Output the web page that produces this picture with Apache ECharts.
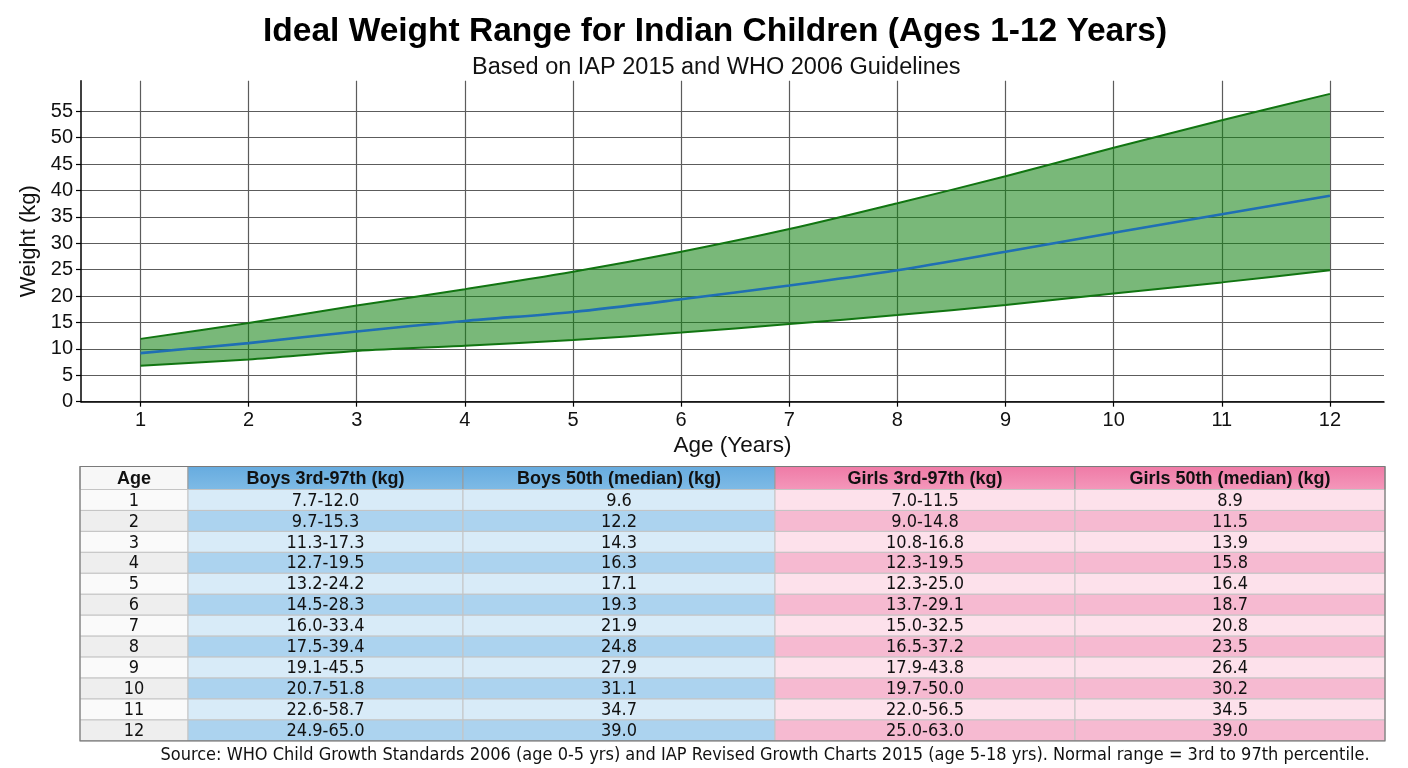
<!DOCTYPE html>
<html>
<head>
<meta charset="utf-8">
<title>Ideal Weight Range for Indian Children</title>
<script src="https://cdn.jsdelivr.net/npm/echarts@6/dist/echarts.min.js"></script>
<style>
  html, body { margin: 0; padding: 0; background: #fff; }
  #main { width: 1408px; height: 768px; }
</style>
</head>
<body>
<div id="main"></div>
<script>
// chart values
var ages = [1, 2, 3, 4, 5, 6, 7, 8, 9, 10, 11, 12];
var lower = [6.8, 8.0, 9.6, 10.6, 11.7, 13.1, 14.7, 16.4, 18.3, 20.5, 22.6, 24.9];
var upper = [11.9, 14.9, 18.2, 21.3, 24.6, 28.4, 32.7, 37.6, 42.7, 48.1, 53.3, 58.3];
var median = [9.2, 11.1, 13.3, 15.3, 17.0, 19.4, 22.0, 24.9, 28.4, 32.0, 35.5, 39.0];
var yTicks = [0, 5, 10, 15, 20, 25, 30, 35, 40, 45, 50, 55];

// table below the chart
var tableHeader = ['Age', 'Boys 3rd-97th (kg)', 'Boys 50th (median) (kg)', 'Girls 3rd-97th (kg)', 'Girls 50th (median) (kg)'];
var boysRange = ['7.7-12.0', '9.7-15.3', '11.3-17.3', '12.7-19.5', '13.2-24.2', '14.5-28.3', '16.0-33.4', '17.5-39.4', '19.1-45.5', '20.7-51.8', '22.6-58.7', '24.9-65.0'];
var boysMedian = ['9.6', '12.2', '14.3', '16.3', '17.1', '19.3', '21.9', '24.8', '27.9', '31.1', '34.7', '39.0'];
var girlsRange = ['7.0-11.5', '9.0-14.8', '10.8-16.8', '12.3-19.5', '12.3-25.0', '13.7-29.1', '15.0-32.5', '16.5-37.2', '17.9-43.8', '19.7-50.0', '22.0-56.5', '25.0-63.0'];
var girlsMedian = ['8.9', '11.5', '13.9', '15.8', '16.4', '18.7', '20.8', '23.5', '26.4', '30.2', '34.5', '39.0'];
var footnote = 'Source: WHO Child Growth Standards 2006 (age 0-5 yrs) and IAP Revised Growth Charts 2015 (age 5-18 yrs). Normal range = 3rd to 97th percentile.';

var bandWidth = ages.map(function (a, i) { return +(upper[i] - lower[i]).toFixed(2); });

// plot area: the visible axes live on grid 0 (x from 0.45 to 12.5),
// the curves on grid 1 whose edges sit exactly on age 1 and age 12
var plotLeft = 81, plotRight = 1384, plotTop = 80.7, plotBottom = 401.7;
var xMin = 0.45, xMax = 12.5, yMax = 60.8;
var pxPerYear = (plotRight - plotLeft) / (xMax - xMin);
var innerLeft = plotLeft + (ages[0] - xMin) * pxPerYear;
var innerRight = plotLeft + (ages[ages.length - 1] - xMin) * pxPerYear;

// table layout
var colX = [80, 188, 463, 775, 1075, 1385];
var tableTop = 466.5, headH = 23, rowH = 20.95;
var cellFont = '18px "DejaVu Sans Condensed", "Liberation Sans Narrow", sans-serif';
var headFont = 'bold 18px "Liberation Sans", Arial, sans-serif';

function grad(c1, c2) {
    return new echarts.graphic.LinearGradient(0, 0, 0, 1, [{offset: 0, color: c1}, {offset: 1, color: c2}]);
}

var table = [];
var headFills = ['#f7f7f7', grad('#66abdf', '#7fbbe6'), grad('#66abdf', '#7fbbe6'), grad('#ef7aa6', '#f498bb'), grad('#ef7aa6', '#f498bb')];
for (var c = 0; c < 5; c++) {
    table.push({
        type: 'rect',
        shape: {x: colX[c], y: tableTop, width: colX[c + 1] - colX[c], height: headH},
        style: {fill: headFills[c], stroke: '#9a9a9a', lineWidth: 1}
    });
    table.push({
        type: 'text',
        x: (colX[c] + colX[c + 1]) / 2, y: tableTop + headH / 2 + 1,
        style: {text: tableHeader[c], font: headFont, fill: '#111', align: 'center', verticalAlign: 'middle'}
    });
}
var cols = [ages.map(String), boysRange, boysMedian, girlsRange, girlsMedian];
var oddFills = ['#fafafa', '#d8ebf8', '#d8ebf8', '#fde1eb', '#fde1eb'];
var evenFills = ['#eeeeee', '#acd3ef', '#acd3ef', '#f6bad1', '#f6bad1'];
for (var r = 0; r < ages.length; r++) {
    var y = tableTop + headH + r * rowH;
    for (var c = 0; c < 5; c++) {
        table.push({
            type: 'rect',
            shape: {x: colX[c], y: y, width: colX[c + 1] - colX[c], height: rowH},
            style: {fill: r % 2 === 0 ? oddFills[c] : evenFills[c], stroke: '#c4c4c4', lineWidth: 1}
        });
        table.push({
            type: 'text',
            x: (colX[c] + colX[c + 1]) / 2, y: y + rowH / 2 + 1,
            style: {text: cols[c][r], font: cellFont, fill: '#111', align: 'center', verticalAlign: 'middle'}
        });
    }
}
// outer border
table.push({
    type: 'rect',
    shape: {x: colX[0], y: tableTop, width: colX[5] - colX[0], height: headH + rowH * ages.length},
    style: {fill: 'none', stroke: '#7a7a7a', lineWidth: 1.2}
});
table.push({
    type: 'text',
    x: 765, y: 755,
    style: {text: footnote, font: '18px "DejaVu Sans Condensed", "DejaVu Sans", sans-serif', fill: '#111', align: 'center', verticalAlign: 'middle'}
});

var myChart = echarts.init(document.getElementById('main'));
var hidden = {show: false};
var option = {
    animation: false,
    title: [
        {
            text: 'Ideal Weight Range for Indian Children (Ages 1-12 Years)',
            left: 258, top: 10,
            textStyle: {fontFamily: 'Liberation Sans', fontWeight: 'bold', fontSize: 33.5, color: '#000'}
        },
        {
            text: 'Based on IAP 2015 and WHO 2006 Guidelines',
            left: 467, top: 51,
            textStyle: {fontFamily: 'Liberation Sans', fontWeight: 'normal', fontSize: 23.5, color: '#111'}
        }
    ],
    grid: [
        {left: plotLeft, right: 1408 - plotRight, top: plotTop, bottom: 768 - plotBottom},
        {left: innerLeft, right: 1408 - innerRight, top: plotTop, bottom: 768 - plotBottom}
    ],
    xAxis: [
        {
            type: 'value', gridIndex: 0,
            min: xMin, max: xMax,
            name: 'Age (Years)', nameLocation: 'middle', nameGap: 33,
            nameTextStyle: {fontFamily: 'Liberation Sans', fontSize: 22.5, color: '#111'},
            axisLine: {lineStyle: {color: '#000', width: 1.5}},
            axisTick: {customValues: ages, length: 5, lineStyle: {color: '#000', width: 1.2}},
            axisLabel: {customValues: ages, margin: 9, fontFamily: 'Liberation Sans', fontSize: 20, color: '#111'},
            splitLine: {show: true, showMinLine: true, showMaxLine: true, lineStyle: {color: '#5c5c5c', width: 1.2}}
        },
        {
            type: 'category', gridIndex: 1, data: ages, boundaryGap: false,
            axisLine: hidden, axisTick: hidden, axisLabel: hidden, splitLine: hidden
        }
    ],
    yAxis: [
        {
            type: 'value', gridIndex: 0,
            min: 0, max: yMax,
            name: 'Weight (kg)', nameLocation: 'middle', nameGap: 40,
            nameTextStyle: {fontFamily: 'Liberation Sans', fontSize: 22, color: '#111'},
            axisLine: {show: true, lineStyle: {color: '#000', width: 1.5}},
            axisTick: {show: true, customValues: yTicks, length: 5, lineStyle: {color: '#000', width: 1.2}},
            axisLabel: {customValues: yTicks, margin: 8, fontFamily: 'Liberation Sans', fontSize: 20, color: '#111'},
            splitLine: {show: true, showMinLine: true, showMaxLine: true, lineStyle: {color: '#5c5c5c', width: 1.2}}
        },
        {
            type: 'value', gridIndex: 1, min: 0, max: yMax,
            axisLine: hidden, axisTick: hidden, axisLabel: hidden, splitLine: hidden
        }
    ],
    series: [
        {
            name: 'base', type: 'line', xAxisIndex: 1, yAxisIndex: 1, stack: 'band', smooth: 0.3,
            data: lower, symbol: 'none', lineStyle: {opacity: 0}, silent: true
        },
        {
            name: 'Normal range', type: 'line', xAxisIndex: 1, yAxisIndex: 1, stack: 'band', smooth: 0.3,
            data: bandWidth, symbol: 'none', lineStyle: {opacity: 0},
            areaStyle: {color: 'rgba(20,130,20,0.57)', opacity: 1}
        },
        {
            name: '97th', type: 'line', xAxisIndex: 1, yAxisIndex: 1, smooth: 0.3, data: upper, symbol: 'none',
            lineStyle: {color: '#117511', width: 2}
        },
        {
            name: '3rd', type: 'line', xAxisIndex: 1, yAxisIndex: 1, smooth: 0.3, data: lower, symbol: 'none',
            lineStyle: {color: '#117511', width: 2}
        },
        {
            name: 'Median', type: 'line', xAxisIndex: 1, yAxisIndex: 1, smooth: 0.3, data: median, symbol: 'none',
            lineStyle: {color: '#1f6fb4', width: 2.6}
        }
    ],
    graphic: table
};
myChart.setOption(option);
</script>
</body>
</html>
